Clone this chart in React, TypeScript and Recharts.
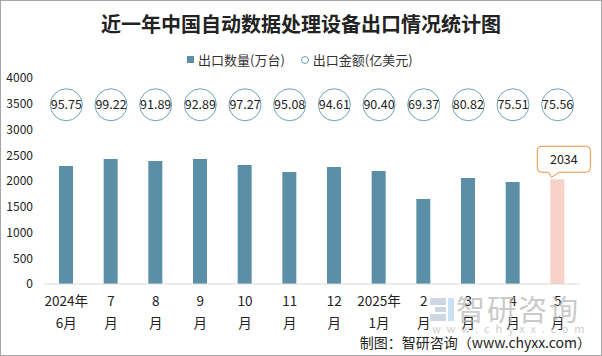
import { Bar, Cell, ComposedChart, LabelList, Line, XAxis, YAxis } from "recharts";

const MONTHS = [
  ["2024年", "6月"],
  ["7", "月"],
  ["8", "月"],
  ["9", "月"],
  ["10", "月"],
  ["11", "月"],
  ["12", "月"],
  ["2025年", "1月"],
  ["2", "月"],
  ["3", "月"],
  ["4", "月"],
  ["5", "月"],
];
const QUANTITY = [2291, 2427, 2388, 2427, 2311, 2175, 2272, 2194, 1650, 2058, 1981, 2034];
const AMOUNT = ["95.75", "99.22", "91.89", "92.89", "97.27", "95.08", "94.61", "90.40", "69.37", "80.82", "75.51", "75.56"];
// the amount bubbles sit in one row near the top of the plot
const BUBBLE_ROW = 3480;
const Y_TICKS = [0, 500, 1000, 1500, 2000, 2500, 3000, 3500, 4000];

const BAR_COLOR = "#5b8fa7";
const HIGHLIGHT = "#f8d1c9";
const FONT = "'Noto Sans CJK SC', 'Noto Sans', sans-serif";

const data = MONTHS.map((m, i) => ({
  key: String(i),
  quantity: QUANTITY[i],
  amount: AMOUNT[i],
  bubble: BUBBLE_ROW,
}));

function MonthTick(props: any) {
  const { x, y, payload } = props;
  const [a, b] = MONTHS[Number(payload.value)];
  return (
    <text x={x} y={y} textAnchor="middle" fontSize={13.5} fill="#222" fontFamily={FONT}>
      <tspan x={x} dy={14}>{a}</tspan>
      <tspan x={x} dy={22}>{b}</tspan>
    </text>
  );
}

function Bubble(props: any) {
  const { cx, cy, payload } = props;
  return (
    <g>
      <circle cx={cx} cy={cy} r={16} fill="#fff" stroke="#6f9fb6" strokeWidth={1} />
      <text x={cx} y={cy + 4.5} textAnchor="middle" fontSize={12.5} fill="#222" fontFamily={FONT}>
        {payload.amount}
      </text>
    </g>
  );
}

function Callout(props: any) {
  const { x, y, width, value, index } = props;
  if (index !== QUANTITY.length - 1) return null;
  const tipX = x + width / 2 - 6;
  const tipY = y - 2;
  const left = x - 13;
  const right = x + 40;
  const top = y - 33;
  const bottom = y - 7;
  const r = 4;
  const d = `M${left + r},${top} H${right - r} Q${right},${top} ${right},${top + r} V${bottom - r} Q${right},${bottom} ${right - r},${bottom} H${tipX + 8} L${tipX},${tipY} L${tipX - 3},${bottom} H${left + r} Q${left},${bottom} ${left},${bottom - r} V${top + r} Q${left},${top} ${left + r},${top} Z`;
  return (
    <g>
      <path d={d} fill="#fff" stroke="#e8923c" strokeWidth={1} />
      <text x={(left + right) / 2} y={top + 18} textAnchor="middle" fontSize={12.5} fill="#222" fontFamily={FONT}>
        {value}
      </text>
    </g>
  );
}

export default function App() {
  return (
    <div
      style={{
        position: "absolute",
        left: 0,
        top: 0,
        width: 600,
        height: 354,
        border: "1px solid #a6a6a6",
        background: "#fff",
        fontFamily: FONT,
      }}
    >
      <div
        style={{
          position: "absolute",
          top: 8,
          width: "100%",
          textAlign: "center",
          fontSize: 20,
          fontWeight: 700,
          color: "#222",
        }}
      >
        近一年中国自动数据处理设备出口情况统计图
      </div>
      <div
        style={{
          position: "absolute",
          top: 49,
          left: 186,
          display: "flex",
          alignItems: "center",
          fontSize: 13,
          color: "#333",
          gap: 4,
        }}
      >
        <span style={{ width: 7, height: 7, background: BAR_COLOR, display: "inline-block" }} />
        <span>出口数量(万台)</span>
        <span
          style={{
            width: 6,
            height: 6,
            border: "1px solid #6f9fb6",
            borderRadius: "50%",
            display: "inline-block",
            marginLeft: 12,
          }}
        />
        <span>出口金额(亿美元)</span>
      </div>
      {/* watermark logo */}
      <div style={{ position: "absolute", left: 429, top: 297, pointerEvents: "none" }}>
        <div style={{ position: "absolute", left: 0, top: 0, width: 16, height: 7, background: "#ced5e3" }} />
        <div style={{ position: "absolute", left: 5, top: 9, width: 11, height: 5, background: "#ced5e3" }} />
        <div style={{ position: "absolute", left: 0, top: 16, width: 16, height: 7, background: "#ced5e3" }} />
        <div style={{ position: "absolute", left: 18, top: 0, width: 6, height: 23, background: "#c8e1f3" }} />
      </div>
      <div style={{ position: "absolute", left: -1, top: -1 }}>
        <ComposedChart width={602} height={356} data={data} margin={{ top: 78, right: 22, bottom: 22, left: 0 }}>
          <XAxis
            dataKey="key"
            tick={<MonthTick />}
            tickLine={false}
            axisLine={{ stroke: "#d9d9d9" }}
            height={50}
            interval={0}
          />
          <YAxis
            domain={[0, 4000]}
            ticks={Y_TICKS}
            width={44}
            axisLine={false}
            tickLine={false}
            tick={{ fontSize: 12, fill: "#222", fontFamily: FONT, dx: -3 }}
          />
          <Bar dataKey="quantity" barSize={14} isAnimationActive={false}>
            {data.map((d, i) => (
              <Cell key={d.key} fill={i === data.length - 1 ? HIGHLIGHT : BAR_COLOR} />
            ))}
            <LabelList dataKey="quantity" content={<Callout />} />
          </Bar>
          <Line
            dataKey="bubble"
            stroke="none"
            dot={<Bubble />}
            activeDot={false}
            isAnimationActive={false}
          />
        </ComposedChart>
      </div>
      <div
        style={{
          position: "absolute",
          left: 455,
          top: 293,
          color: "#b9b9b9",
          opacity: 0.75,
          pointerEvents: "none",
          lineHeight: 1,
          fontSize: 29,
          letterSpacing: 2,
          whiteSpace: "nowrap",
        }}
      >
        智研咨询
      </div>
      <div
        style={{
          position: "absolute",
          left: 431,
          top: 322,
          color: "#c4c4c4",
          opacity: 0.8,
          pointerEvents: "none",
          fontSize: 11,
          letterSpacing: 5.8,
          lineHeight: 1,
          whiteSpace: "nowrap",
        }}
      >
        www.chyxx.com
      </div>
      <div
        style={{
          position: "absolute",
          right: 10,
          bottom: 3,
          fontSize: 14,
          color: "#222",
          fontFamily: "'Noto Sans CJK SC', 'DejaVu Sans Mono', monospace",
        }}
      >
        制图：智研咨询（www.chyxx.com）
      </div>
    </div>
  );
}
